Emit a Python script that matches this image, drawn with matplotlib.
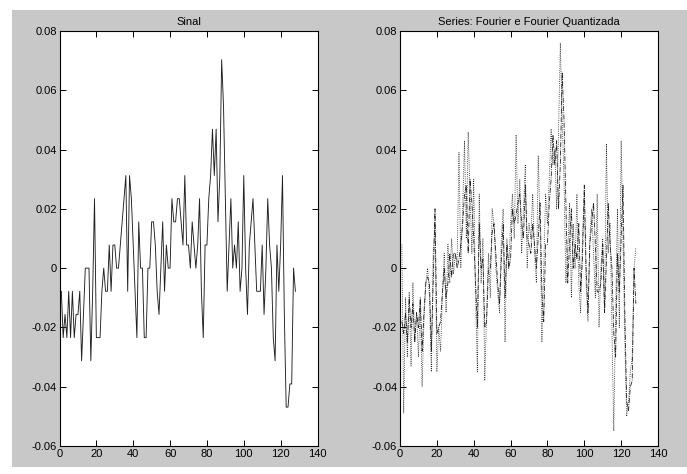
import matplotlib
matplotlib.use('Agg')
import matplotlib.pyplot as plt
import numpy as np
from matplotlib.patches import Rectangle

# ---------------- data ----------------
QSTEP = 1.0 / 128  # quantization step of the signal

# Signal (in quantization steps), samples 1..128
sinal_q = [
    -1, -3, -2, -3, -1, -3, -1, -3, -2, -2,
    -1, -4, -2, 0, 0, 0, -4, -1, 3, -3,
    -3, -3, -1, 0, -1, -1, 1, -1, 1, 1,
    0, 0, 1, 2, 3, 4, -1, 4, 3, 1,
    -1, -3, 2, 0, 0, -3, -3, 0, 0, 2,
    2, 1, -1, -2, 0, 2, -1, 1, 0, 0,
    3, 2, 2, 3, 3, 2, 1, 4, 1, 1,
    0, 2, 1, 0, 1, 3, -1, -3, 1, 1,
    3, 4, 6, 4, 6, 2, 4, 9, 7, 3,
    -1, 1, 3, 0, 1, 0, 2, -1, 0, 4,
    0, -2, 1, 2, 3, 1, -1, -1, -1, 1,
    -2, 0, 3, 1, 0, -3, -4, 1, -1, 1,
    4, -2, -6, -6, -5, -5, 0, -1,
]

# Fourier series reconstruction (x 0.001)
fourier_milli = [
    8, -49, -10, -30, -8, -33, -5, -25, -15, -30,
    -12, -40, -18, -5, 0, -10, -35, 5, 15, -35,
    -20, -28, -10, 5, -15, 8, -5, 10, -2, 5,
    2, 39, 0, 20, 43, 10, 46, 25, 5, 30,
    -10, -35, 25, -5, 10, -38, -15, 5, -10, 20,
    15, 0, -8, -15, 10, 20, -25, 10, 0, 15,
    25, 10, 45, 15, 30, 5, 20, 35, 0, 15,
    10, 25, 5, -5, 38, 15, -25, 0, 25, 15,
    30, 47, 35, 40, 20, 45, 76, 50, 30, -5,
    5, 22, -10, 15, 0, 25, -5, -15, 10, 25,
    -5, -18, 10, 20, 5, -10, 25, -20, 0, 10,
    -15, 42, 5, 15, -20, -55, -15, 20, -20, 43,
    10, -25, -50, -45, -35, -30, 0, 7,
]

# Quantized Fourier series reconstruction (x 0.001)
quant_milli = [
    -18, -22, -15, -25, -10, -20, -12, -25, -15, -20,
    -10, -28, -15, -5, -3, -5, -28, -5, 20, -22,
    -20, -18, -8, 0, -10, -5, 5, -3, 5, 5,
    0, 3, 8, 15, 25, 28, 5, 30, 22, 10,
    -5, -20, 15, 0, 3, -20, -18, 0, 0, 12,
    15, 5, -5, -12, 3, 15, -10, 8, 0, 3,
    20, 15, 18, 22, 25, 15, 10, 28, 10, 8,
    5, 15, 8, 0, 10, 22, -8, -18, 8, 8,
    22, 30, 45, 35, 43, 20, 35, 66, 50, 22,
    -5, 8, 20, 0, 8, 3, 15, -8, 3, 28,
    0, -15, 8, 15, 22, 8, -8, -8, -5, 8,
    -15, 2, 22, 8, 0, -22, -30, 5, -8, 10,
    28, -15, -45, -48, -40, -38, 0, -12,
]

titles = ['Sinal', 'Series: Fourier e Fourier Quantizada']
xticks = [0, 20, 40, 60, 80, 100, 120, 140]
xtick_labels = ['0', '20', '40', '60', '80', '100', '120', '140']
yticks = [0.08, 0.06, 0.04, 0.02, 0.0, -0.02, -0.04, -0.06]
ytick_labels = ['0.08', '0.06', '0.04', '0.02', '0', '-0.02', '-0.04', '-0.06']

# ---------------- figure ----------------
W, H = 687, 474
plt.rcParams['font.family'] = ['Liberation Sans Narrow', 'Liberation Sans', 'DejaVu Sans']
fig = plt.figure(figsize=(W / 100, H / 100), dpi=100, facecolor='white')

gray = '#c8c8c8'
fig.patches.append(Rectangle((12 / W, 1 - 467 / H), (687 - 12) / W, (467 - 10) / H,
                             transform=fig.transFigure, facecolor=gray,
                             edgecolor='none', zorder=-10))

def px_axes(x0, x1, y0, y1):
    return fig.add_axes([x0 / W, 1 - y1 / H, (x1 - x0) / W, (y1 - y0) / H])

ax1 = px_axes(59.5, 317.5, 31, 446)
ax2 = px_axes(400, 658, 31, 446)

n = np.arange(1, len(sinal_q) + 1)
sinal = np.array(sinal_q) * QSTEP
fourier = np.array(fourier_milli) / 1000.0
quant = np.array(quant_milli) / 1000.0

ax1.plot(n, sinal, color='#202020', lw=0.65, linestyle='-')
ax2.plot(n, fourier, color='#202020', lw=0.6, linestyle=(0, (1.0, 1.6)))
ax2.plot(n, quant, color='#202020', lw=0.6, linestyle=(0, (6, 1.5, 1, 1.5)))

for ax, t in zip([ax1, ax2], titles):
    ax.set_xlim(0, 140)
    ax.set_ylim(-0.06, 0.08)
    ax.set_xticks(xticks)
    ax.set_xticklabels(xtick_labels)
    ax.set_yticks(yticks)
    ax.set_yticklabels(ytick_labels)
    ax.tick_params(direction='in', length=4, width=0.7, top=True, right=True,
                   labelsize=8, pad=2, colors='black')
    for s in ax.spines.values():
        s.set_linewidth(0.8)
        s.set_color('black')
    ax.set_facecolor('white')
    ax.set_title(t, fontsize=8, pad=4)

fig.savefig('out.png', dpi=100, facecolor=fig.get_facecolor())
